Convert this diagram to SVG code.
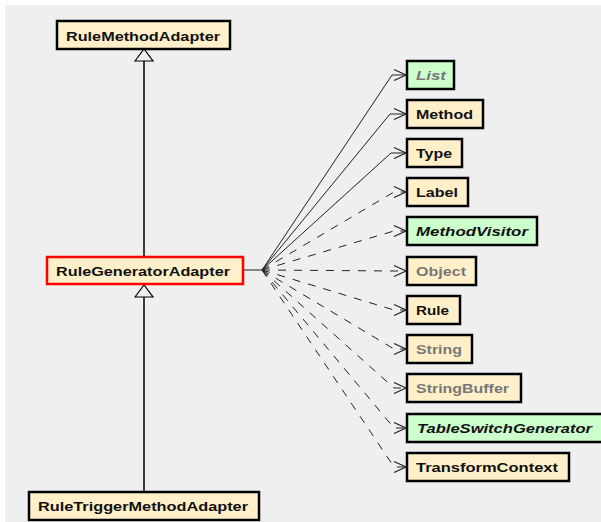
<svg xmlns="http://www.w3.org/2000/svg" width="601" height="522" viewBox="0 0 601 522">
<style>
.box{fill:#fff0c9;stroke:#000;stroke-width:2.5}
.iface{fill:#ccffcc;stroke:#000;stroke-width:2.5}
.sel{fill:#fff0c9;stroke:#ff0000;stroke-width:2.5}
text{font-family:"Liberation Sans",Arial,sans-serif;font-weight:bold;font-size:13px;fill:#111}
.gray{fill:#777}
.it{font-style:italic}
.dep{fill:none;stroke:#222;stroke-width:1}
.dash{stroke-dasharray:8 8}
.gen{fill:none;stroke:#000;stroke-width:1.5}
</style>
<defs>
<marker id="open" markerUnits="userSpaceOnUse" markerWidth="16" markerHeight="14" refX="14" refY="7" orient="auto">
<path d="M2,1.5 L14,7 L2,12.5" fill="none" stroke="#222" stroke-width="1.2"/>
</marker>
</defs>
<rect x="0" y="0" width="601" height="522" fill="#ffffff"/>
<rect x="5" y="5" width="596" height="517" fill="#efefef"/>

<g id="connectors">
<line class="gen" x1="144" y1="257" x2="144" y2="61"/>
<path d="M135,61 L144,49 L153,61 Z" fill="#efefef" stroke="#000" stroke-width="1.2"/>
<line class="gen" x1="144" y1="492" x2="144" y2="297"/>
<path d="M135,297 L144,285 L153,297 Z" fill="#efefef" stroke="#000" stroke-width="1.2"/>
<line class="dep" x1="243" y1="270" x2="262" y2="270" stroke-width="1.3"/>
<polyline class="dep" points="262,270 392,75 406,75" marker-end="url(#open)"/>
<polyline class="dep" points="262,270 390,114 406,114" marker-end="url(#open)"/>
<polyline class="dep" points="262,270 391,153 406,153" marker-end="url(#open)"/>
<polyline class="dep dash" points="262,270 394,192 406,192" marker-end="url(#open)"/>
<polyline class="dep dash" points="262,270 394,231 406,231" marker-end="url(#open)"/>
<polyline class="dep dash" points="262,270 394,271 406,271" marker-end="url(#open)"/>
<polyline class="dep dash" points="262,270 394,310 406,310" marker-end="url(#open)"/>
<polyline class="dep dash" points="262,270 394,349 406,349" marker-end="url(#open)"/>
<polyline class="dep dash" points="262,270 394,388 406,388" marker-end="url(#open)"/>
<polyline class="dep dash" points="262,270 394,428 406,428" marker-end="url(#open)"/>
<polyline class="dep dash" points="262,270 394,467 406,467" marker-end="url(#open)"/>
</g>

<g id="RuleMethodAdapter"><rect class="box" x="57" y="21" width="173" height="28"/><text x="66" y="41" textLength="154" lengthAdjust="spacingAndGlyphs">RuleMethodAdapter</text></g>
<g id="RuleGeneratorAdapter"><rect class="sel" x="47" y="257" width="196" height="27"/><text x="56" y="276" textLength="174" lengthAdjust="spacingAndGlyphs">RuleGeneratorAdapter</text></g>
<g id="RuleTriggerMethodAdapter"><rect class="box" x="29" y="492" width="230" height="28"/><text x="38" y="511" textLength="210" lengthAdjust="spacingAndGlyphs">RuleTriggerMethodAdapter</text></g>

<g id="List"><rect class="iface" x="407" y="61" width="47" height="28"/><text class="gray it" x="416" y="80" textLength="30" lengthAdjust="spacingAndGlyphs">List</text></g>
<g id="Method"><rect class="box" x="407" y="100" width="76" height="28"/><text x="416" y="119" textLength="57" lengthAdjust="spacingAndGlyphs">Method</text></g>
<g id="Type"><rect class="box" x="407" y="139" width="55" height="28"/><text x="416" y="158" textLength="36" lengthAdjust="spacingAndGlyphs">Type</text></g>
<g id="Label"><rect class="box" x="407" y="178" width="61" height="28"/><text x="416" y="197" textLength="42" lengthAdjust="spacingAndGlyphs">Label</text></g>
<g id="MethodVisitor"><rect class="iface" x="407" y="217" width="130" height="28"/><text class="it" x="416" y="236" textLength="112" lengthAdjust="spacingAndGlyphs">MethodVisitor</text></g>
<g id="Object"><rect class="box" x="407" y="257" width="69" height="28"/><text class="gray" x="416" y="276" textLength="50" lengthAdjust="spacingAndGlyphs">Object</text></g>
<g id="Rule"><rect class="box" x="407" y="296" width="53" height="28"/><text x="416" y="315" textLength="33" lengthAdjust="spacingAndGlyphs">Rule</text></g>
<g id="String"><rect class="box" x="407" y="335" width="65" height="28"/><text class="gray" x="416" y="354" textLength="46" lengthAdjust="spacingAndGlyphs">String</text></g>
<g id="StringBuffer"><rect class="box" x="407" y="374" width="114" height="28"/><text class="gray" x="416" y="393" textLength="93" lengthAdjust="spacingAndGlyphs">StringBuffer</text></g>
<g id="TableSwitchGenerator"><rect class="iface" x="407" y="414" width="196" height="28"/><text class="it" x="417" y="433" textLength="175" lengthAdjust="spacingAndGlyphs">TableSwitchGenerator</text></g>
<g id="TransformContext"><rect class="box" x="407" y="453" width="162" height="28"/><text x="416" y="472" textLength="142" lengthAdjust="spacingAndGlyphs">TransformContext</text></g>
</svg>
